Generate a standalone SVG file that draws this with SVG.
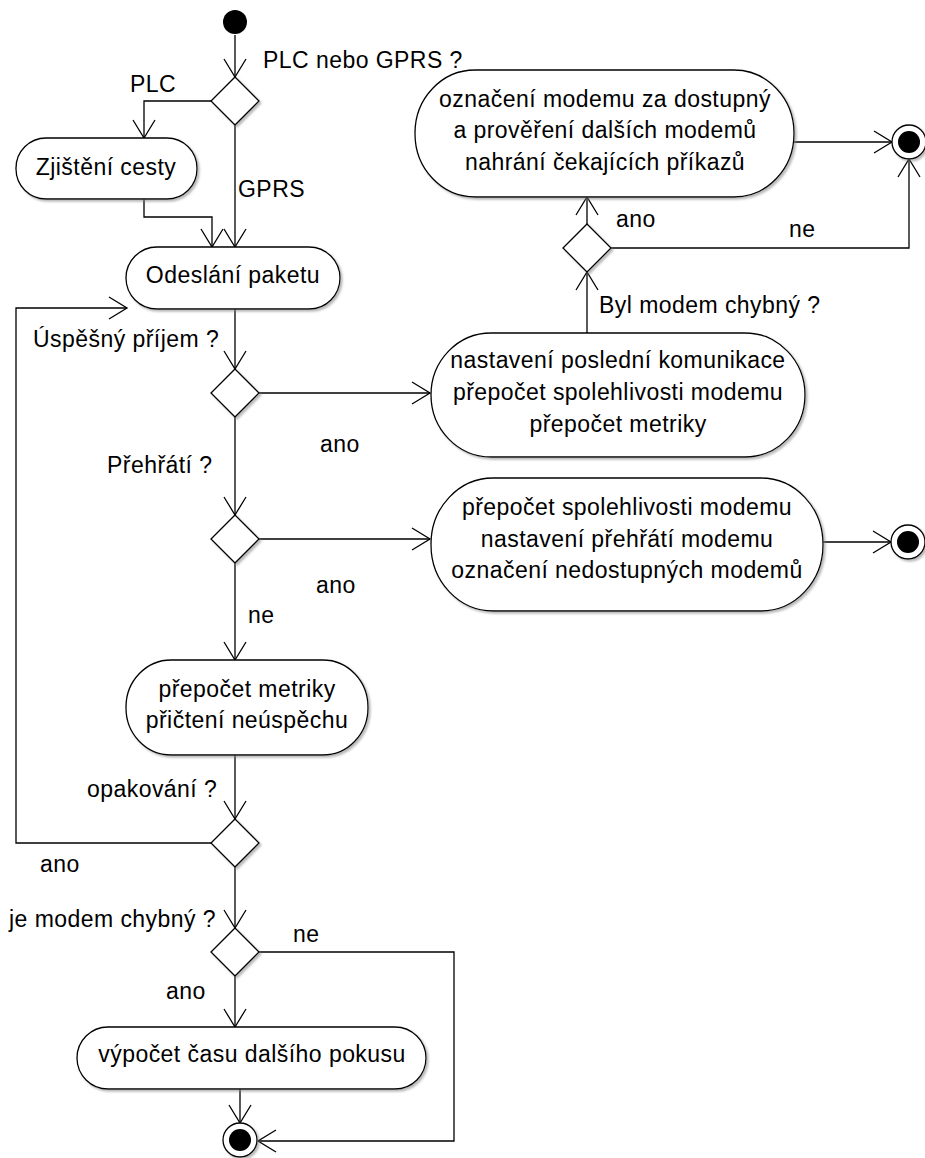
<svg xmlns="http://www.w3.org/2000/svg" width="925" height="1158" viewBox="0 0 925 1158">
  <style>
    .node { fill: #ffffff; stroke: #000000; stroke-width: 1.3; filter: url(#shadow); }
    .edge { fill: none; stroke: #000000; stroke-width: 1.3; marker-end: url(#open); }
    text { font-family: "Liberation Sans", Arial, sans-serif; font-size: 23px; letter-spacing: 0.45px; fill: #000000; }
    .c { text-anchor: middle; }
  </style>
  <defs>
    <filter id="shadow" x="-10%" y="-10%" width="125%" height="130%">
      <feDropShadow dx="2" dy="2" stdDeviation="1" flood-color="#808080" flood-opacity="0.55"/>
    </filter>
    <marker id="open" markerUnits="userSpaceOnUse" viewBox="-19 -12 21 24" refX="0" refY="0" markerWidth="21" markerHeight="24" orient="auto" overflow="visible">
      <path d="M -18 -11 L 0 0 L -18 11" fill="none" stroke="#000000" stroke-width="1.3"/>
    </marker>
  </defs>

  <!-- connectors -->
  <g id="connectors">
    <path class="edge" d="M235 35 L235 77"/>
    <path class="edge" d="M211 101 L144 101 L144 138"/>
    <path class="edge" d="M235 125 L235 247"/>
    <path class="edge" d="M144 199 L144 217 L212 217 L212 247"/>
    <path class="edge" d="M235 309 L235 369"/>
    <path class="edge" d="M259 393 L430 393"/>
    <path class="edge" d="M235 417 L235 515"/>
    <path class="edge" d="M259 539 L430 539"/>
    <path class="edge" d="M235 563 L235 660"/>
    <path class="edge" d="M235 755 L235 819"/>
    <path class="edge" d="M211 843 L16 843 L16 308 L127 308"/>
    <path class="edge" d="M235 867 L235 928"/>
    <path class="edge" d="M235 976 L235 1027"/>
    <path class="edge" d="M259 952 L454 952 L454 1141 L258 1141"/>
    <path class="edge" d="M240 1089 L240 1123"/>
    <path class="edge" d="M587 333 L587 272"/>
    <path class="edge" d="M587 224 L587 197"/>
    <path class="edge" d="M611 248 L909 248 L909 159"/>
    <path class="edge" d="M794 142 L892 142"/>
    <path class="edge" d="M823 542 L891 542"/>
  </g>

  <!-- edge and guard labels -->
  <g id="labels">
    <text x="263" y="68">PLC nebo GPRS ?</text>
    <text x="130" y="92">PLC</text>
    <text x="238" y="197">GPRS</text>
    <text x="33" y="347">Úspěšný příjem ?</text>
    <text x="320" y="452">ano</text>
    <text x="107" y="473">Přehřátí ?</text>
    <text x="316" y="593">ano</text>
    <text x="248" y="623">ne</text>
    <text x="87" y="797">opakování ?</text>
    <text x="40" y="872">ano</text>
    <text x="9" y="927">je modem chybný ?</text>
    <text x="293" y="942">ne</text>
    <text x="166" y="999">ano</text>
    <text x="616" y="227">ano</text>
    <text x="789" y="237">ne</text>
    <text x="599" y="313">Byl modem chybný ?</text>
  </g>

  <!-- start -->
  <g id="start">
    <circle cx="235" cy="22" r="12" fill="#000000"/>
  </g>

  <!-- decisions -->
  <g id="decision-channel">
    <path class="node" d="M235 77 L259 101 L235 125 L211 101 Z"/>
  </g>
  <g id="decision-received">
    <path class="node" d="M235 369 L259 393 L235 417 L211 393 Z"/>
  </g>
  <g id="decision-overheat">
    <path class="node" d="M235 515 L259 539 L235 563 L211 539 Z"/>
  </g>
  <g id="decision-retry">
    <path class="node" d="M235 819 L259 843 L235 867 L211 843 Z"/>
  </g>
  <g id="decision-faulty">
    <path class="node" d="M235 928 L259 952 L235 976 L211 952 Z"/>
  </g>
  <g id="decision-was-faulty">
    <path class="node" d="M587 224 L611 248 L587 272 L563 248 Z"/>
  </g>

  <!-- actions -->
  <g id="action-route">
    <rect class="node" x="16" y="138" width="181" height="61" rx="30" ry="30"/>
    <text class="c" x="106" y="175">Zjištění cesty</text>
  </g>
  <g id="action-send">
    <rect class="node" x="126" y="247" width="214" height="62" rx="31" ry="31"/>
    <text class="c" x="233" y="283">Odeslání paketu</text>
  </g>
  <g id="action-available">
    <rect class="node" x="415" y="70" width="379" height="127" rx="60" ry="63"/>
    <text class="c" x="605" y="107">označení modemu za dostupný</text>
    <text class="c" x="605" y="138">a prověření dalších modemů</text>
    <text class="c" x="605" y="170">nahrání čekajících příkazů</text>
  </g>
  <g id="action-success">
    <rect class="node" x="431" y="333" width="374" height="124" rx="60" ry="62"/>
    <text class="c" x="618" y="368">nastavení poslední komunikace</text>
    <text class="c" x="618" y="400">přepočet spolehlivosti modemu</text>
    <text class="c" x="618" y="432">přepočet metriky</text>
  </g>
  <g id="action-overheat">
    <rect class="node" x="431" y="478" width="392" height="133" rx="62" ry="66"/>
    <text class="c" x="627" y="515">přepočet spolehlivosti modemu</text>
    <text class="c" x="627" y="547">nastavení přehřátí modemu</text>
    <text class="c" x="627" y="578">označení nedostupných modemů</text>
  </g>
  <g id="action-failure">
    <rect class="node" x="126" y="660" width="242" height="95" rx="45" ry="47"/>
    <text class="c" x="247" y="697">přepočet metriky</text>
    <text class="c" x="247" y="728">přičtení neúspěchu</text>
  </g>
  <g id="action-next-try">
    <rect class="node" x="77" y="1027" width="349" height="62" rx="31" ry="31"/>
    <text class="c" x="252" y="1062">výpočet času dalšího pokusu</text>
  </g>

  <!-- final states -->
  <g id="end-available">
    <circle class="node" cx="909" cy="142" r="17"/>
    <circle cx="909" cy="142" r="11" fill="#000000"/>
  </g>
  <g id="end-overheat">
    <circle class="node" cx="908" cy="542" r="17"/>
    <circle cx="908" cy="542" r="11" fill="#000000"/>
  </g>
  <g id="end-retry">
    <circle class="node" cx="240" cy="1140" r="17"/>
    <circle cx="240" cy="1140" r="11" fill="#000000"/>
  </g>
</svg>
